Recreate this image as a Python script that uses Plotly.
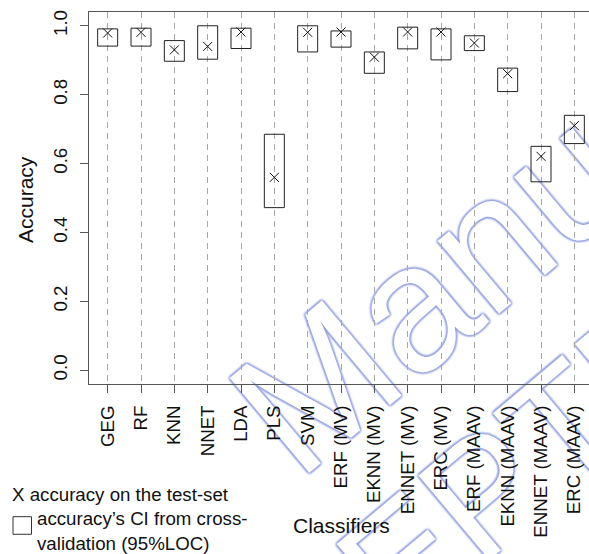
import plotly.graph_objects as go

# Classifier names on the x axis
classifiers = ["GEG", "RF", "KNN", "NNET", "LDA", "PLS", "SVM",
               "ERF (MV)", "EKNN (MV)", "ENNET (MV)", "ERC (MV)",
               "ERF (MAAV)", "EKNN (MAAV)", "ENNET (MAAV)", "ERC (MAAV)"]

# Accuracy on the test set (X markers)
test_acc = [0.979, 0.981, 0.930, 0.940, 0.982, 0.560, 0.981,
            0.982, 0.909, 0.982, 0.982, 0.950, 0.861, 0.621, 0.710]

# Cross-validation 95% confidence interval for the accuracy (boxes)
ci_low = [0.941, 0.941, 0.897, 0.903, 0.934, 0.472, 0.924,
          0.938, 0.862, 0.933, 0.901, 0.928, 0.809, 0.547, 0.658]
ci_high = [0.991, 0.993, 0.957, 1.000, 0.993, 0.685, 1.000,
           0.985, 0.924, 0.996, 0.991, 0.971, 0.877, 0.650, 0.740]

y_ticks = [0.0, 0.2, 0.4, 0.6, 0.8, 1.0]
y_tick_text = ["0.0", "0.2", "0.4", "0.6", "0.8", "1.0"]

FONT = "Liberation Sans, Arial, Helvetica, sans-serif"
AXIS_COL = "#555555"
TICK_SIZE = 18.7

fig = go.Figure()

# CI boxes: hollow bars from the lower to the upper bound
fig.add_trace(go.Bar(
    x=classifiers,
    y=[h - l for l, h in zip(ci_low, ci_high)],
    base=ci_low,
    width=0.6,
    marker=dict(color="rgba(0,0,0,0)", line=dict(color="#222222", width=1)),
    showlegend=False,
    hoverinfo="skip",
))

# Test-set accuracy as X markers
fig.add_trace(go.Scatter(
    x=classifiers,
    y=test_acc,
    mode="markers",
    marker=dict(symbol="x-thin", size=9, color="#111111",
                line=dict(color="#111111", width=1)),
    showlegend=False,
    hoverinfo="skip",
))

# Publisher watermark: hollow lettering drawn underneath everything else
wm_col = "rgba(140,152,222,0.45)"
wm_outline = ", ".join(
    f"{dx}px {dy}px 1.5px {wm_col}"
    for dx, dy in [(2, 0), (-2, 0), (0, 2), (0, -2),
                   (1.5, 1.5), (-1.5, -1.5), (1.5, -1.5), (-1.5, 1.5)]
)


def watermark_font(size):
    try:
        return go.layout.shape.label.Font(
            family=FONT, size=size, color="white", shadow=wm_outline)
    except ValueError:
        return go.layout.shape.label.Font(
            family=FONT, size=size, color="rgba(150,162,225,0.16)")


for text, cx, cy, size in [("Manuscript", 0.99, 0.66, 180),
                           ("ACCEPTED", 0.676, -0.3655, 160)]:
    fig.add_shape(
        type="rect", xref="paper", yref="paper", layer="below",
        x0=cx - 0.01, x1=cx + 0.01, y0=cy - 0.01, y1=cy + 0.01,
        line=dict(width=0), fillcolor="rgba(0,0,0,0)",
        label=dict(text=text, textangle=-40,
                   textposition="middle center", font=watermark_font(size)),
    )

# Axis titles
fig.add_annotation(
    text="Accuracy", xref="paper", yref="paper",
    x=-0.128, y=0.4946, xanchor="center", yanchor="middle",
    textangle=-90, showarrow=False,
    font=dict(family=FONT, size=21, color="#111111"),
)
fig.add_annotation(
    text="Classifiers", xref="paper", yref="paper",
    x=0.504, y=-0.3817, xanchor="center", yanchor="middle",
    showarrow=False,
    font=dict(family=FONT, size=21, color="#111111"),
)

# Key for the markers and boxes
legend_font = dict(family=FONT, size=18.7, color="#111111")
fig.add_annotation(
    text="X accuracy on the test-set", xref="paper", yref="paper",
    x=-0.156, y=-0.2965, xanchor="left", yanchor="middle",
    showarrow=False, font=legend_font, borderpad=0,
)
fig.add_annotation(
    text="accuracy\u2019s CI from cross-", xref="paper", yref="paper",
    x=-0.106, y=-0.3605, xanchor="left", yanchor="middle",
    showarrow=False, font=legend_font, borderpad=0,
)
fig.add_annotation(
    text="validation (95%LOC)", xref="paper", yref="paper",
    x=-0.106, y=-0.428, xanchor="left", yanchor="middle",
    showarrow=False, font=legend_font, borderpad=0,
)
fig.add_shape(
    type="rect", xref="paper", yref="paper",
    x0=-0.152, x1=-0.115, y0=-0.404, y1=-0.3567,
    line=dict(color="#333333", width=1), fillcolor="rgba(0,0,0,0)",
)

fig.update_layout(
    width=589, height=554,
    margin=dict(l=89, r=0, t=12, b=170),
    paper_bgcolor="white", plot_bgcolor="white",
    font=dict(family=FONT, color="#111111"),
    barmode="overlay",
)

fig.update_xaxes(
    type="category",
    categoryorder="array", categoryarray=classifiers,
    range=[-0.56, 14.44],
    showline=True, linecolor=AXIS_COL, linewidth=1, mirror=True,
    ticks="outside", ticklen=8, tickcolor=AXIS_COL, tickwidth=1,
    tickangle=-90, ticklabelstandoff=5,
    tickfont=dict(family=FONT, size=TICK_SIZE, color="#111111"),
    showgrid=True, gridcolor="#a8a8a8", gridwidth=1, griddash="6px,5px",
    zeroline=False,
)

fig.update_yaxes(
    range=[-0.04, 1.04],
    tickvals=y_ticks, ticktext=y_tick_text,
    showline=True, linecolor=AXIS_COL, linewidth=1, mirror=False,
    ticks="outside", ticklen=8, tickcolor=AXIS_COL, tickwidth=1,
    tickangle=-90, ticklabelstandoff=6,
    tickfont=dict(family=FONT, size=TICK_SIZE, color="#111111"),
    showgrid=False, zeroline=False,
)

fig.write_html("out.html")
